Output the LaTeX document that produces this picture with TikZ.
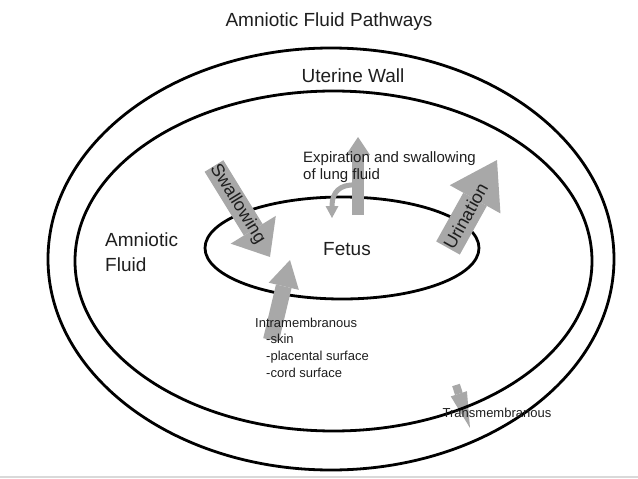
\documentclass[tikz,border=0pt]{standalone}
\usepackage{fontspec}
\setmainfont{Liberation Sans}
\usetikzlibrary{arrows.meta}

\definecolor{arrowgray}{RGB}{168,168,168}
\definecolor{inkgray}{RGB}{30,30,30}

\tikzset{
  wall/.style={draw=black, line width=2.8pt},
  flow/.style n args={3}{draw=arrowgray, line width=#1pt,
    -{Triangle[width=#2pt, length=#3pt, line width=0pt]}},
  bigtext/.style={font=\fontsize{19}{25}\selectfont},
  arrowtext/.style={font=\fontsize{18}{20}\selectfont},
  midtext/.style={font=\fontsize{15}{17}\selectfont},
  smalltext/.style={font=\fontsize{13}{17}\selectfont},
}

\begin{document}
\begin{tikzpicture}[x=1pt, y=-1pt, every node/.style={inner sep=0pt, text=inkgray}]
            \useasboundingbox (0,0) rectangle (638,479);
            \draw[gray!30, line width=1.5pt] (0,477) -- (638,477); % faint edge at the bottom

            \draw[wall] (342,248) ellipse (137 and 51); % the fetus

            % swallowing goes in, urination comes out
            \coordinate (swTail) at (214,166);
            \coordinate (swTip) at (270,257);
            \draw[flow={22}{53}{32}] (swTail) -- (swTip)
                  node[arrowtext, pos=0.42, sloped] (swallow) {Swallowing};
            \coordinate (urTail) at (448,248);
            \coordinate (urTip) at (497,160);
            \draw[flow={27}{58}{45}] (urTail) -- (urTip)
                  node[arrowtext, pos=0.36, sloped] (urine) {Urination};

            % intramembranous flow back into the fetus
            \coordinate (imTail) at (271,340);
            \coordinate (imTip) at (290,260);
            \draw[flow={16}{31}{27}] (imTail) -- (imTip);

            % lung fluid: out, and partly swallowed again
            \coordinate (exTail) at (358,215);
            \coordinate (exTip) at (358,137);
            \draw[flow={12}{24}{18}] (exTail) -- (exTip);
            \coordinate (lungStart) at (356,185);
            \coordinate (lungTip) at (332,218);
            \draw[flow={5}{13}{12}] (lungStart) .. controls (340,184) and (332,192) .. (lungTip);

            % across the uterine wall
            \coordinate (tmTail) at (456,385);
            \coordinate (tmTip) at (470,428);
            \draw[flow={8}{17}{36}] (tmTail) -- (tmTip);

            \draw[wall] (331,259) ellipse (283 and 211); % outer side of the wall
            \draw[wall] (333.5,261) ellipse (258.5 and 170); % inner side of the wall

            \node[bigtext] (title) at (329,22) {Amniotic Fluid Pathways};
            \node[bigtext] (uterus) at (353,76) {Uterine Wall};
            \node[bigtext, anchor=west, align=left] (fluid) at (105,252) {Amniotic\\Fluid};
            \node[bigtext] (fetus) at (347,249) {Fetus};
            \node[midtext, anchor=north west, align=left] (expir) at (303,151) {Expiration and swallowing\\of lung fluid};
            \node[smalltext, anchor=north west] (intra) at (255,318) {Intramembranous};
            \node[smalltext, anchor=north west, align=left] (routes) at (266,334) {-skin\\-placental surface\\-cord surface};
            \node[smalltext] (trans) at (497,413) {Transmembranous};
      \end{tikzpicture}
\end{document}
